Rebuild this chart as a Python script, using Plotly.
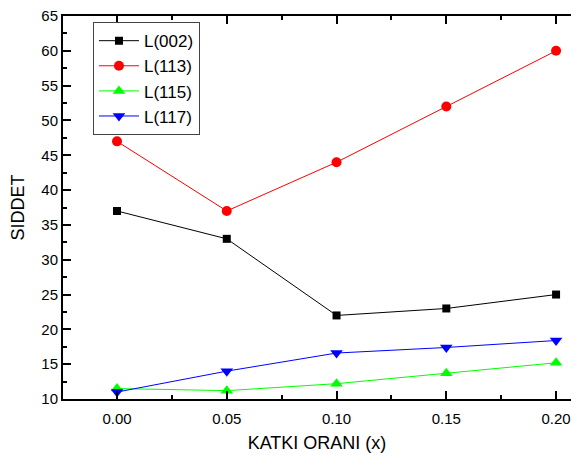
import plotly.graph_objects as go

x = [0.00, 0.05, 0.10, 0.15, 0.20]
L002 = [37.0, 33.0, 22.0, 23.0, 25.0]
L113 = [47.0, 37.0, 44.0, 52.0, 60.0]
L115 = [11.5, 11.2, 12.2, 13.7, 15.2]
L117 = [11.0, 14.0, 16.6, 17.4, 18.4]

series = [
    ("L(002)", L002, "#000000", "square", 8),
    ("L(113)", L113, "#ff0000", "circle", 10),
    ("L(115)", L115, "#00ff00", "triangle-up", 11),
    ("L(117)", L117, "#0000ff", "triangle-down", 11),
]

fig = go.Figure()
for name, ys, col, sym, sz in series:
    fig.add_trace(go.Scatter(
        x=x, y=ys, name=name, mode="lines+markers",
        line=dict(color=col, width=1),
        marker=dict(symbol=sym, size=sz, color=col, line=dict(width=0)),
    ))

font = "Liberation Sans, Arial, sans-serif"
fig.update_layout(
    width=571, height=455,
    margin=dict(l=63, r=0, t=16, b=56),
    plot_bgcolor="white", paper_bgcolor="white",
    font=dict(family=font, size=15, color="#000"),
    showlegend=True,
    legend=dict(
        x=0.059, y=0.984, xanchor="left", yanchor="top",
        bgcolor="white", bordercolor="#444", borderwidth=1,
        font=dict(size=17, family=font), tracegroupgap=0,
        itemwidth=40,
    ),
    xaxis=dict(
        range=[-0.0246, 0.2068], dtick=0.05, tick0=0, tickformat=".2f",
        showgrid=False, zeroline=False,
        showline=True, linecolor="#000", linewidth=2, mirror="ticks",
        ticks="inside", ticklen=8, tickwidth=1.5, tickcolor="#000",
        ticklabelstandoff=5,
        minor=dict(ticks="inside", ticklen=4, dtick=0.025, tick0=0, tickcolor="#000", tickwidth=1.5),
        title=dict(text="KATKI ORANI (x)", font=dict(size=18, family=font), standoff=10),
        tickfont=dict(size=15),
    ),
    yaxis=dict(
        range=[10, 65], dtick=5, tick0=10,
        showgrid=False, zeroline=False,
        showline=True, linecolor="#000", linewidth=2, mirror=False,
        ticks="inside", ticklen=8, tickwidth=1.5, tickcolor="#000",
        minor=dict(ticks="inside", ticklen=4, dtick=2.5, tick0=10, tickcolor="#000", tickwidth=1.5),
        title=dict(text="SIDDET", font=dict(size=18, family=font), standoff=12),
        tickfont=dict(size=15),
    ),
)

fig.write_html("out.html")
